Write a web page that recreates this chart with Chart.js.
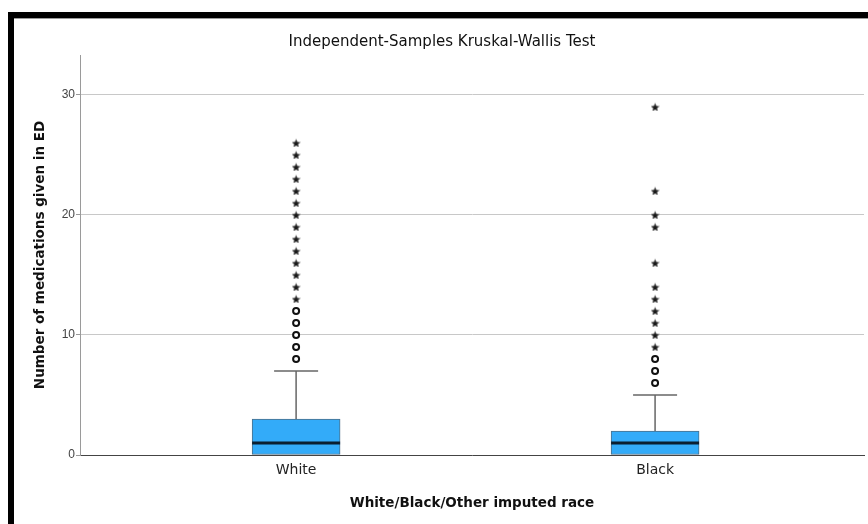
<!DOCTYPE html>
<html>
<head>
<meta charset="utf-8">
<script src="https://cdn.jsdelivr.net/npm/chart.js@4"></script>
<style>
  html, body { margin: 0; padding: 0; background: #fff; }
  #wrap { position: relative; width: 868px; height: 524px; }
  #topBar { position: absolute; left: 8px; top: 12px; width: 860px; height: 6px; background: #000; }
  #topLine { position: absolute; left: 14px; top: 18px; width: 854px; height: 1px; background: #9a9a9a; }
  #leftBar { position: absolute; left: 8px; top: 12px; width: 6px; height: 512px; background: #000; }
</style>
</head>
<body>
<div id="wrap">
  <canvas id="boxChart" width="868" height="524"></canvas>
  <div id="topBar"></div>
  <div id="topLine"></div>
  <div id="leftBar"></div>
</div>
<script>
// Groups on the x axis
const groups = ['White', 'Black'];

// Box plot summary per group
const lowerQuartile = [0, 0];
const medians = [1, 1];
const upperQuartile = [3, 2];
const upperWhisker = [7, 5];

// Outliers (circles) and extreme values (stars) per group
const whiteOutliers = [8, 9, 10, 11, 12];
const whiteExtremes = [13, 14, 15, 16, 17, 18, 19, 20, 21, 22, 23, 24, 25, 26];
const blackOutliers = [6, 7, 8];
const blackExtremes = [9, 10, 11, 12, 13, 14, 16, 19, 20, 22, 29];

// Y axis ticks
const yTicks = [0, 10, 20, 30];

// Small filled star used for the extreme values
function makeStar(size, color) {
    const c = document.createElement('canvas');
    c.width = size;
    c.height = size;
    const g = c.getContext('2d');
    g.fillStyle = color;
    g.beginPath();
    for (let i = 0; i < 10; i++) {
        const r = i % 2 ? size * 0.22 : size * 0.5;
        const a = -Math.PI / 2 + i * Math.PI / 5;
        g.lineTo(size / 2 + r * Math.cos(a), size / 2 + 0.6 + r * Math.sin(a));
    }
    g.closePath();
    g.fill();
    return c;
}
const starImg = makeStar(9, '#1a1a1a');

// Build the point lists from the arrays above (group i sits at x = i + 1)
const boxData = groups.map((g, i) => ({ x: i + 1, y: [lowerQuartile[i], upperQuartile[i]] }));
const medianData = groups.map((g, i) => ({ x: i + 1, y: medians[i] }));
const capData = groups.map((g, i) => ({ x: i + 1, y: upperWhisker[i] }));
const whiskerData = [];
groups.forEach((g, i) => {
    whiskerData.push({ x: i + 1, y: upperQuartile[i] });
    whiskerData.push({ x: i + 1, y: upperWhisker[i] });
    whiskerData.push({ x: i + 1, y: null });
});
const outlierData = [
    ...whiteOutliers.map(v => ({ x: 1, y: v })),
    ...blackOutliers.map(v => ({ x: 2, y: v })),
];
const extremeData = [
    ...whiteExtremes.map(v => ({ x: 1, y: v })),
    ...blackExtremes.map(v => ({ x: 2, y: v })),
];

const ctx = document.getElementById('boxChart').getContext('2d');
const boxChart = new Chart(ctx, {
    data: {
        datasets: [
            {
                type: 'scatter',
                label: 'Median',
                data: medianData,
                pointStyle: 'line',
                radius: 44,
                borderWidth: 3,
                borderColor: '#0b1f30',
                order: 0,
            },
            {
                type: 'scatter',
                label: 'Extremes',
                data: extremeData,
                pointStyle: starImg,
                order: 1,
            },
            {
                type: 'scatter',
                label: 'Outliers',
                data: outlierData,
                pointStyle: 'circle',
                radius: 3,
                borderWidth: 2,
                borderColor: '#111',
                backgroundColor: '#fff',
                order: 1,
            },
            {
                type: 'scatter',
                label: 'Whisker cap',
                data: capData,
                pointStyle: 'line',
                radius: 22,
                borderWidth: 1.5,
                borderColor: '#666',
                order: 2,
            },
            {
                type: 'scatter',
                label: 'Whisker',
                data: whiskerData,
                showLine: true,
                spanGaps: false,
                pointRadius: 0,
                borderWidth: 1.5,
                borderColor: '#666',
                order: 2,
            },
            {
                type: 'bar',
                label: 'Box',
                data: boxData,
                barThickness: 88,
                backgroundColor: '#33abf9',
                borderColor: '#4d6f88',
                borderWidth: 1,
                borderSkipped: false,
                order: 3,
            },
        ],
    },
    options: {
        responsive: false,
        animation: false,
        events: [],
        layout: {
            autoPadding: false,
            padding: { top: 0, right: 4, bottom: 0, left: 20 },
        },
        plugins: {
            legend: { display: false },
            tooltip: { enabled: false },
            title: {
                display: true,
                text: 'Independent-Samples Kruskal-Wallis Test',
                color: '#111',
                font: { family: 'DejaVu Sans', size: 15, weight: 'normal' },
                padding: { top: 33.5, bottom: 3.5 },
            },
        },
        scales: {
            x: {
                type: 'linear',
                offset: false,
                min: 0.398,
                max: 2.582,
                afterBuildTicks: (scale) => {
                    scale.ticks = groups.map((g, i) => ({ value: i + 1 }));
                },
                afterFit: (scale) => { scale.height = 69; },
                ticks: {
                    callback: (value) => groups[value - 1],
                    color: '#222',
                    font: { family: 'DejaVu Sans', size: 14 },
                    padding: 7,
                    maxRotation: 0,
                },
                grid: { display: false, drawTicks: false, offset: false },
                border: { display: true, color: '#444', width: 1 },
                title: {
                    display: true,
                    text: 'White/Black/Other imputed race',
                    color: '#111',
                    font: { family: 'DejaVu Sans', size: 13.5, weight: 'bold' },
                    padding: { top: 0, bottom: 12.9 },
                },
            },
            y: {
                type: 'linear',
                min: 0,
                max: 33.33,
                afterBuildTicks: (scale) => {
                    scale.ticks = yTicks.map(v => ({ value: v }));
                },
                afterFit: (scale) => { scale.width = 60; },
                ticks: {
                    color: '#444',
                    font: { family: 'Liberation Sans', size: 12 },
                    padding: 1,
                },
                grid: {
                    color: '#c8c8c8',
                    tickColor: '#999',
                    tickLength: 4,
                    lineWidth: 1,
                },
                border: { display: true, color: '#9a9a9a', width: 1 },
                title: {
                    display: true,
                    text: 'Number of medications given in ED',
                    color: '#111',
                    font: { family: 'DejaVu Sans', size: 13.5, weight: 'bold' },
                    padding: { top: 11.9, bottom: 0 },
                },
            },
        },
    },
});
</script>
</body>
</html>
